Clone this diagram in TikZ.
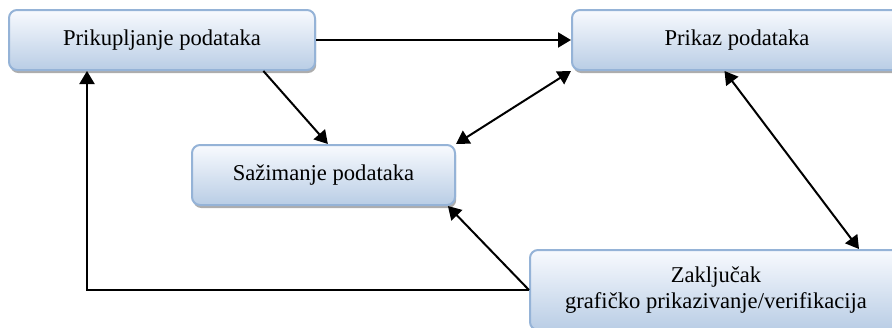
\documentclass[tikz,border=0pt]{standalone}
\usepackage{fontspec}
\setmainfont{Liberation Serif}
\usepackage{tikz}
\usetikzlibrary{arrows.meta,shadows}

\definecolor{boxtop}{HTML}{F8FAFE}
\definecolor{boxbot}{HTML}{B9CDE5}
\definecolor{boxline}{HTML}{95B3D7}

\tikzset{
  korak/.style={rounded corners=4pt, draw=boxline, line width=1pt,
    top color=boxtop, bottom color=boxbot, align=center,
    font=\rmfamily\fontsize{11.3}{12.6}\selectfont,
    drop shadow={shadow xshift=0.6pt, shadow yshift=-1.5pt, fill=black!40, opacity=0.8}},
  veza/.style={line width=1pt, -{Triangle[length=6.5pt,width=7.5pt]}},
  dvoveza/.style={line width=1pt, {Triangle[length=6.5pt,width=7.5pt]}-{Triangle[length=6.5pt,width=7.5pt]}}
}

\begin{document}
\begin{tikzpicture}[x=0.5pt,y=-0.5pt]
	\useasboundingbox (0,0) rectangle (892,327);
	\clip (0,0) rectangle (892,327);
	% koraci
	\node[korak, minimum width=153pt, minimum height=30pt] (p1) at (162,40) {Prikupljanje podataka};
	\node[korak, minimum width=165pt, minimum height=30pt] (p2) at (737,40) {Prikaz podataka};
	\node[korak, minimum width=131.5pt, minimum height=30pt] (p3) at (323.5,175) {Sažimanje podataka};
	\node[korak, minimum width=186pt, minimum height=40pt] (p4) at (716,290) {Zaključak\\grafičko prikazivanje/verifikacija};
	% veze
	\draw[veza] (p1.east) -- (p2.west);
	\draw[veza] (p1.-17) -- (p3.82);
	\draw[dvoveza] (p3.north east) -- (p2.south west);
	\draw[dvoveza] (p2.-112) -- (p4.16.6);
	\draw[veza] (p4.west) -- (p3.-14.7);
	\draw[veza] (p4.west) -| ([xshift=39.5pt]p1.south west);
\end{tikzpicture}
\end{document}
